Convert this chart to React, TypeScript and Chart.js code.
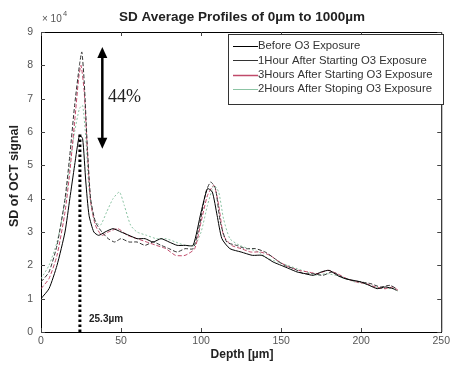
import React, { useEffect, useRef } from "react";
import { Chart, registerables } from "chart.js";

Chart.register(...registerables);

const titleText = "SD Average Profiles of 0µm to 1000µm";
const xTitle = "Depth [µm]";
const yTitle = "SD of OCT signal";
const seriesNames = [
  "Before O3 Exposure",
  "1Hour After Starting O3 Exposure",
  "3Hours After Starting O3 Exposure",
  "2Hours After Stoping O3 Exposure",
];
const seriesColors = ["#000000", "#333333", "#c04a6a", "#8cc4a4"];
const seriesDash = [[], [4, 2], [4, 2], [2, 2]];

const beforeX = [0,5,10,15,18,21,24,26,28,30,33,36,40,45,50,55,60,65,70,75,80,85,90,95,100,104,107,110,113,118,125,132,138,145,150,155,160,165,170,175,180,185,190,195,200,205,210,215,220,222];
const beforeY = [1.0,1.3,2.0,3.0,4.0,5.0,5.9,5.8,4.5,3.5,3.0,2.9,3.0,3.1,3.0,2.9,2.8,2.8,2.7,2.8,2.7,2.6,2.6,2.6,3.6,4.3,4.2,3.5,2.8,2.5,2.4,2.3,2.3,2.1,2.0,1.9,1.8,1.75,1.7,1.8,1.85,1.7,1.6,1.55,1.5,1.4,1.3,1.35,1.3,1.25];

const hour1X = [0,5,10,15,18,21,24,25.5,27,29,31,34,38,42,46,50,55,60,65,70,75,80,85,90,95,99,103,106,109,112,116,122,128,134,140,146,152,158,164,170,176,182,188,194,200,206,212,218,222];
const hour1Y = [1.5,1.8,2.6,4.0,5.3,6.8,8.0,8.4,7.5,5.5,4.0,3.3,3.0,2.8,2.7,2.8,2.7,2.7,2.6,2.7,2.6,2.5,2.4,2.5,2.5,3.2,4.2,4.5,4.3,3.3,2.7,2.6,2.5,2.5,2.4,2.2,2.0,1.9,1.75,1.75,1.7,1.8,1.65,1.55,1.5,1.45,1.35,1.4,1.3];

const hour3X = [0,5,10,15,18,21,23.5,25,27,29,31,34,38,42,48,54,60,66,72,78,84,90,96,100,104,108,111,114,119,125,131,137,143,149,155,161,167,173,179,185,191,197,203,209,215,220,223];
const hour3Y = [1.3,1.6,2.3,3.6,4.8,6.3,7.6,8.0,7.2,5.4,3.9,3.2,2.9,3.0,3.1,2.9,2.8,2.7,2.6,2.5,2.3,2.3,2.5,3.3,4.1,4.4,3.8,2.9,2.6,2.5,2.4,2.4,2.3,2.1,1.95,1.85,1.8,1.75,1.85,1.75,1.6,1.5,1.45,1.35,1.3,1.35,1.25];

const stopX = [0,5,10,15,18,21,24,26,28,30,33,37,41,45,49,52,56,60,66,72,78,84,90,96,100,104,108,111,114,118,124,130,136,142,148,154,160,166,172,178,184,190,196,202,208,214,220,224];
const stopY = [1.6,2.0,2.7,3.9,5.0,6.0,6.7,6.8,5.8,4.3,3.4,3.2,3.6,4.0,4.2,3.8,3.2,3.0,2.9,2.8,2.8,2.7,2.6,2.6,3.0,3.8,4.4,4.2,3.4,2.8,2.6,2.5,2.4,2.2,2.1,2.0,1.9,1.8,1.7,1.75,1.7,1.6,1.5,1.45,1.35,1.3,1.3,1.2];

const peakDepth = 24.3;
const peakLineTop = 6.0;
const peakLabel = "25.3µm";
const percentLabel = "44%";
const arrowX = 38.3;
const arrowTop = 8.55;
const arrowBottom = 5.5;

const xTicks = [0, 50, 100, 150, 200, 250];
const yTicks = [0, 1, 2, 3, 4, 5, 6, 7, 8, 9];

const pts = (xs: number[], ys: number[]) => xs.map((x, i) => ({ x, y: ys[i] }));

const FONT = "Arial, 'Liberation Sans', sans-serif";

const overlay = {
  id: "overlay",
  afterDraw(chart: any) {
    const ctx = chart.ctx;
    const a = chart.chartArea;
    const xs = chart.scales.x;
    const ys = chart.scales.y;
    ctx.save();
    ctx.strokeStyle = "#000";
    ctx.lineWidth = 1;
    ctx.beginPath();
    ctx.moveTo(a.left, a.top + 0.5);
    ctx.lineTo(a.right + 0.5, a.top + 0.5);
    ctx.lineTo(a.right + 0.5, a.bottom);
    ctx.stroke();
    ctx.strokeStyle = "#444";
    ctx.beginPath();
    xTicks.forEach((t) => {
      const p = Math.round(xs.getPixelForValue(t)) + 0.5;
      ctx.moveTo(p, a.bottom);
      ctx.lineTo(p, a.bottom - 4);
      ctx.moveTo(p, a.top);
      ctx.lineTo(p, a.top + 4);
    });
    yTicks.forEach((t) => {
      const p = Math.round(ys.getPixelForValue(t)) + 0.5;
      ctx.moveTo(a.left, p);
      ctx.lineTo(a.left + 4, p);
      ctx.moveTo(a.right, p);
      ctx.lineTo(a.right - 4, p);
    });
    ctx.stroke();
    ctx.fillStyle = "#222";
    ctx.font = "bold 13.5px " + FONT;
    ctx.textAlign = "center";
    ctx.textBaseline = "middle";
    ctx.fillText(titleText, 242, 17);
    ctx.font = "10px " + FONT;
    ctx.textAlign = "left";
    ctx.fillStyle = "#555";
    ctx.fillText("× 10", 42, 19);
    ctx.font = "7.5px " + FONT;
    ctx.fillText("4", 63, 14);
    ctx.fillStyle = "#222";
    ctx.font = "bold 12px " + FONT;
    ctx.textAlign = "center";
    ctx.fillText(xTitle, 242, 355);
    ctx.save();
    ctx.translate(15, 176);
    ctx.rotate(-Math.PI / 2);
    ctx.font = "bold 12.5px " + FONT;
    ctx.fillText(yTitle, 0, 0);
    ctx.restore();
    const lx = 228, ly = 34, lw = 215, lh = 70;
    ctx.fillStyle = "#fff";
    ctx.fillRect(lx, ly, lw, lh);
    ctx.strokeStyle = "#333";
    ctx.lineWidth = 1;
    ctx.strokeRect(lx + 0.5, ly + 0.5, lw, lh);
    ctx.font = "11.3px " + FONT;
    ctx.textAlign = "left";
    seriesNames.forEach((n, i) => {
      const yy = 46 + i * 14.4;
      ctx.strokeStyle = seriesColors[i];
      ctx.setLineDash([]);
      ctx.lineWidth = i === 2 ? 1.5 : 1;
      ctx.beginPath();
      ctx.moveTo(233, Math.round(yy) + 0.5);
      ctx.lineTo(258, Math.round(yy) + 0.5);
      ctx.stroke();
      ctx.fillStyle = "#333";
      ctx.fillText(n, 258, yy);
    });
    const ax = xs.getPixelForValue(arrowX);
    const at = ys.getPixelForValue(arrowTop);
    const ab = ys.getPixelForValue(arrowBottom);
    ctx.strokeStyle = "#000";
    ctx.fillStyle = "#000";
    ctx.lineWidth = 2.5;
    ctx.beginPath();
    ctx.moveTo(ax, at + 8);
    ctx.lineTo(ax, ab - 8);
    ctx.stroke();
    ctx.beginPath();
    ctx.moveTo(ax, at);
    ctx.lineTo(ax - 5, at + 11);
    ctx.lineTo(ax + 5, at + 11);
    ctx.closePath();
    ctx.fill();
    ctx.beginPath();
    ctx.moveTo(ax, ab);
    ctx.lineTo(ax - 5, ab - 11);
    ctx.lineTo(ax + 5, ab - 11);
    ctx.closePath();
    ctx.fill();
    ctx.font = "18px 'Liberation Serif', 'Times New Roman', serif";
    ctx.fillStyle = "#222";
    ctx.textAlign = "left";
    ctx.fillText(percentLabel, 108, 97);
    ctx.font = "bold 10px " + FONT;
    ctx.fillText(peakLabel, 89, 319);
    ctx.restore();
  },
};

export default function App() {
  const ref = useRef<HTMLCanvasElement>(null);
  useEffect(() => {
    document.body.style.margin = "0";
    const datasets: any[] = [
      [beforeX, beforeY],
      [hour1X, hour1Y],
      [hour3X, hour3Y],
      [stopX, stopY],
    ].map(([xs, ys], i) => ({
      label: seriesNames[i],
      data: pts(xs as number[], ys as number[]),
      borderColor: seriesColors[i],
      borderDash: seriesDash[i],
      borderWidth: 1,
      pointRadius: 0,
      tension: 0.2,
      fill: false,
    }));
    datasets.push({
      label: "peak",
      data: [
        { x: peakDepth, y: 0 },
        { x: peakDepth, y: peakLineTop },
      ],
      borderColor: "#000",
      borderDash: [2.5, 2.5],
      borderWidth: 3,
      pointRadius: 0,
    });
    const chart = new Chart(ref.current!, {
      type: "line",
      data: { datasets },
      plugins: [overlay],
      options: {
        animation: false,
        responsive: false,
        layout: { padding: { top: 32, right: 7, left: 0, bottom: 0 } },
        plugins: { legend: { display: false }, title: { display: false }, tooltip: { enabled: false } },
        scales: {
          x: {
            type: "linear",
            min: 0,
            max: 250,
            afterFit: (s: any) => { s.height = 33; },
            ticks: { stepSize: 50, color: "#555", padding: 3, font: { size: 10.5, family: FONT } },
            grid: { display: false, drawTicks: false },
            border: { color: "#000" },
          },
          y: {
            min: 0,
            max: 9,
            afterFit: (s: any) => { s.width = 41; },
            ticks: { stepSize: 1, color: "#555", padding: 8, font: { size: 10.5, family: FONT } },
            grid: { display: false, drawTicks: false },
            border: { color: "#000" },
          },
        },
      },
    });
    return () => chart.destroy();
  }, []);
  return (
    <div style={{ position: "absolute", left: 0, top: 0, width: 453, height: 365 }}>
      <canvas ref={ref} width={453} height={365} />
    </div>
  );
}
